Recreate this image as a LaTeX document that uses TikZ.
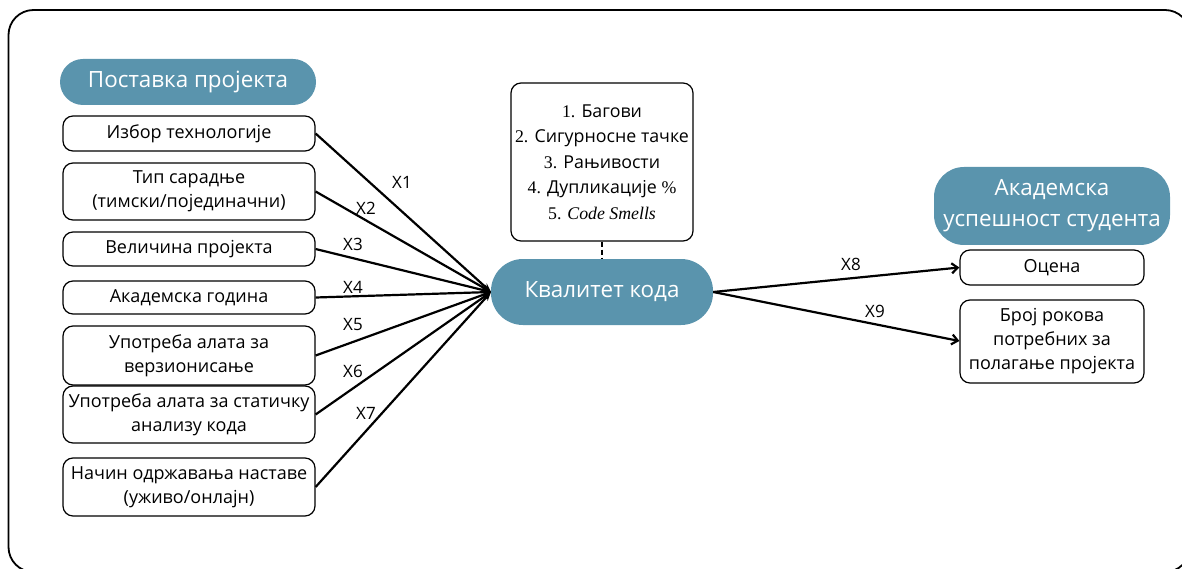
\documentclass[tikz,border=0pt]{standalone}
\usepackage{fontspec}
\setmainfont{Open Sans}
\newfontfamily\serifnum{Liberation Serif}
\usetikzlibrary{arrows.meta}
\definecolor{pillblue}{RGB}{90,148,173}
\begin{document}
\begin{tikzpicture}[x=1pt,y=-1pt,
  pill/.style={rounded corners=23pt,fill=pillblue,text=white,inner sep=0pt,font=\fontsize{22.4}{31}\selectfont,align=center},
  leftbox/.style={draw=black,line width=1.2pt,rounded corners=10pt,minimum width=252pt,inner sep=0pt,font=\fontsize{18}{24}\selectfont,align=center},
  conn/.style={line width=2.2pt,-{Stealth[length=9pt,width=7pt]}},
  outconn/.style={line width=2.2pt,-{Straight Barb[length=6pt,width=10pt]}},
  lab/.style={font=\fontsize{17}{18}\selectfont,inner sep=0pt}
]
\useasboundingbox (0,0) rectangle (1182,569);
\draw[line width=1.8pt,rounded corners=25pt] (8.5,10) rectangle (1190,572);

\node[pill,minimum width=256pt,minimum height=46pt] (setup) at (188,82) {Поставка пројекта};

\node[leftbox,minimum height=35pt] (b1) at (189,133.5) {Избор технологије};
\node[leftbox,minimum height=57pt] (b2) at (189,191.5) {Тип сарадње\\(тимски/појединачни)};
\node[leftbox,minimum height=34pt] (b3) at (189,249) {Величина пројекта};
\node[leftbox,minimum height=33pt] (b4) at (189,297.5) {Академска година};
\node[leftbox,minimum height=59pt] (b5) at (189,355.5) {Употреба алата за\\верзионисање};
\node[leftbox,minimum height=57pt] (b6) at (189,414.5) {Употреба алата за статичку\\анализу кода};
\node[leftbox,minimum height=58pt] (b7) at (189,487) {Начин одржавања наставе\\(уживо/онлајн)};

\node[pill,rounded corners=32pt,minimum width=222pt,minimum height=66pt] (q) at (602,292) {Квалитет кода};
\coordinate (qin) at (491,292);

\node[draw=black,line width=1.2pt,rounded corners=10pt,minimum width=182pt,minimum height=158pt,inner sep=0pt,align=center,font=\fontsize{17.8}{25.5}\selectfont] (list) at (602,162)
 {{\serifnum 1.} Багови\\{\serifnum 2.} Сигурносне тачке\\{\serifnum 3.} Рањивости\\{\serifnum 4.} Дупликације {\serifnum \%}\\{\serifnum 5. \itshape Code Smells}};
\draw[line width=2pt,dashed,dash pattern=on 5pt off 3pt] (list.south) -- (q.north);

\node[pill,rounded corners=30pt,minimum width=236pt,minimum height=78pt] (acad) at (1052,206) {Академска\\успешност студента};
\node[leftbox,minimum width=184pt,minimum height=35pt] (grade) at (1052,267.5) {Оцена};
\node[leftbox,minimum width=184pt,minimum height=83pt] (terms) at (1052,341.5) {Број рокова\\потребних за\\полагање пројекта};

\draw[conn] (b1.east) -- (qin);
\draw[conn] (b2.east) -- (qin);
\draw[conn] (b3.east) -- (qin);
\draw[conn] (b4.east) -- (qin);
\draw[conn] (b5.east) -- (qin);
\draw[conn] (b6.east) -- (qin);
\draw[conn] (b7.east) -- (qin);

\node[lab] (x1) at (402,182) {X1};
\node[lab] (x2) at (366,208) {X2};
\node[lab] (x3) at (353,244) {X3};
\node[lab] (x4) at (353,287) {X4};
\node[lab] (x5) at (353,325) {X5};
\node[lab] (x6) at (353,371) {X6};
\node[lab] (x7) at (366,413) {X7};

\draw[outconn] (q.east) -- (grade.west);
\draw[outconn] (q.east) -- ([yshift=0.5pt]terms.west);
\node[lab] (x8) at (851,264) {X8};
\node[lab] (x9) at (875,311) {X9};
\end{tikzpicture}
\end{document}
